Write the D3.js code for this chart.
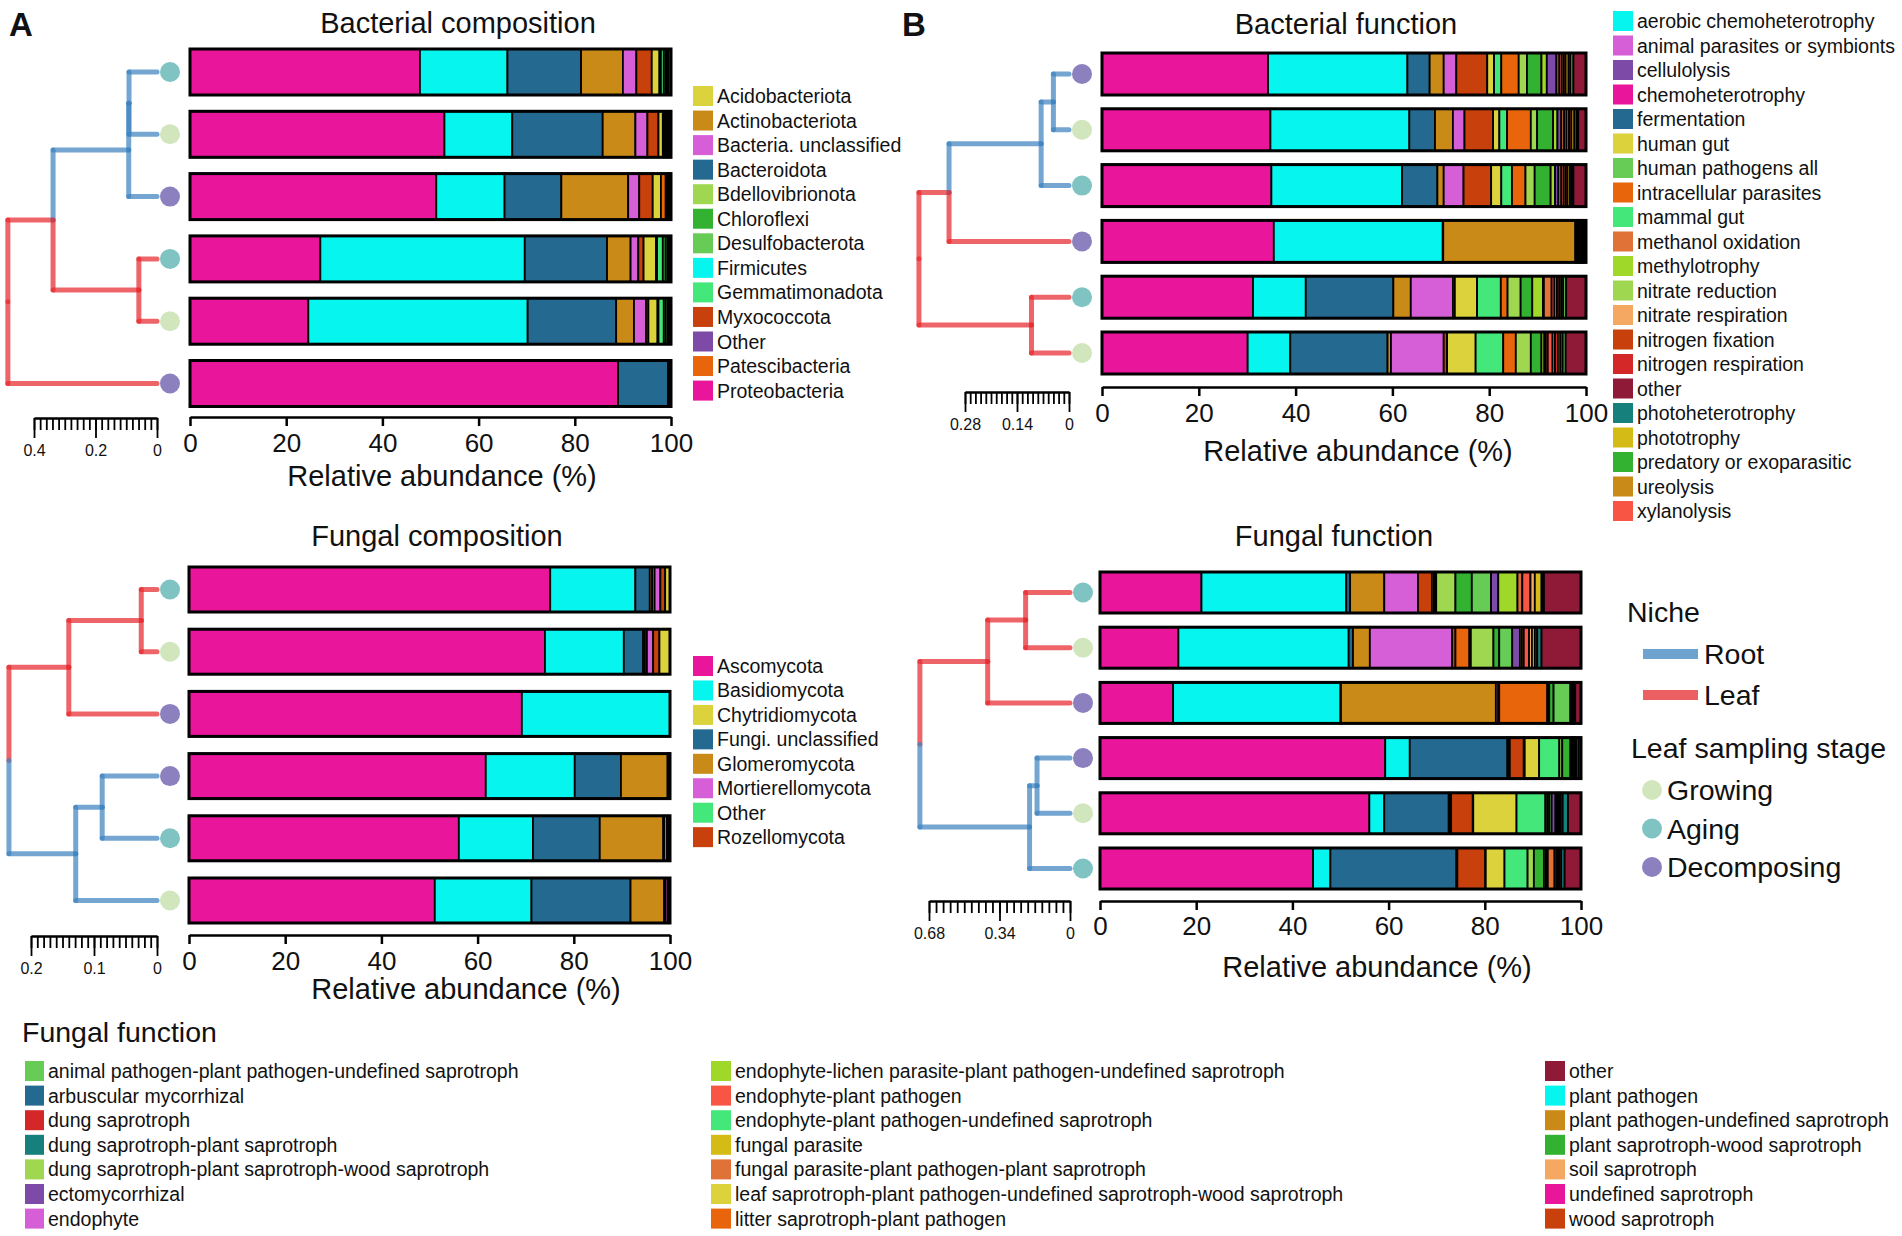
<!DOCTYPE html>
<html>
<head>
<meta charset="utf-8">
<script src="https://cdn.jsdelivr.net/npm/d3@7"></script>
<style>
  body { margin: 0; background: #fff; }
  text { font-family: "Liberation Sans", Arial, sans-serif; fill: #111; }
</style>
</head>
<body>
<script>
// ---------- data ----------
var bacCompStack = ["Proteobacteria", "Firmicutes", "Bacteroidota", "Actinobacteriota", "Bacteria. unclassified",
  "Myxococcota", "Acidobacteriota", "Patescibacteria", "Gemmatimonadota", "Chloroflexi", "Desulfobacterota",
  "Bdellovibrionota", "Other"];
var bacCompValues = [
  [47.8, 18.2, 15.3, 8.7, 2.8, 3.2, 1.6, 0.3, 0.6, 0.4, 0.3, 0.3, 0.5],
  [52.9, 14.1, 18.8, 6.8, 2.5, 2.3, 0.9, 0.3, 0.3, 0.3, 0.3, 0.2, 0.3],
  [51.2, 14.2, 11.8, 13.9, 2.3, 2.8, 1.7, 1.0, 0.3, 0.2, 0.2, 0.2, 0.2],
  [27.1, 42.5, 17.1, 4.9, 1.6, 1.1, 2.6, 0.2, 1.2, 0.6, 0.4, 0.3, 0.4],
  [24.6, 45.6, 18.4, 3.7, 2.5, 0.5, 1.9, 0.2, 1.1, 0.4, 0.4, 0.3, 0.4],
  [89.0, 0, 10.4, 0.1, 0.1, 0.1, 0.1, 0, 0.1, 0, 0, 0, 0.1]
];
var bacCompLegend = ["Acidobacteriota", "Actinobacteriota", "Bacteria. unclassified", "Bacteroidota",
  "Bdellovibrionota", "Chloroflexi", "Desulfobacterota", "Firmicutes", "Gemmatimonadota", "Myxococcota",
  "Other", "Patescibacteria", "Proteobacteria"];
var bacCompStages = ["Aging", "Growing", "Decomposing", "Aging", "Growing", "Decomposing"];
var bacCompNiches = ["Root", "Root", "Root", "Leaf", "Leaf", "Leaf"];
var bacCompTree = {h: 0.485, c: [{h: 0.338, c: [{h: 0.092, c: [{h: 0.091, c: [0, 1]}, 2]}, {h: 0.059, c: [3, 4]}]}, 5]};
var bacCompScale = [0.4, 0.2, 0];

var funCompStack = ["Ascomycota", "Basidiomycota", "Fungi. unclassified", "Glomeromycota", "Other",
  "Mortierellomycota", "Rozellomycota", "Chytridiomycota"];
var funCompValues = [
  [75.1, 17.7, 3.0, 0.5, 0.5, 1.2, 1.0, 1.0],
  [74.0, 16.4, 4.0, 0.4, 0.4, 1.3, 1.3, 2.2],
  [69.2, 30.8, 0, 0, 0, 0, 0, 0],
  [61.7, 18.5, 9.6, 9.7, 0.2, 0.1, 0.1, 0.1],
  [56.1, 15.4, 13.9, 13.2, 0.2, 0.6, 0.3, 0.3],
  [51.1, 20.1, 20.6, 7.0, 0.2, 0.5, 0.3, 0.2]
];
var funCompLegend = ["Ascomycota", "Basidiomycota", "Chytridiomycota", "Fungi. unclassified", "Glomeromycota",
  "Mortierellomycota", "Other", "Rozellomycota"];
var funCompStages = ["Aging", "Growing", "Decomposing", "Decomposing", "Aging", "Growing"];
var funCompNiches = ["Leaf", "Leaf", "Leaf", "Root", "Root", "Root"];
var funCompTree = {h: 0.235, c: [{h: 0.14, c: [{h: 0.025, c: [0, 1]}, 2]}, {h: 0.129, c: [{h: 0.087, c: [3, 4]}, 5]}]};
var funCompScale = [0.2, 0.1, 0];

var bacFunStack = ["chemoheterotrophy", "aerobic chemoheterotrophy", "fermentation", "ureolysis",
  "animal parasites or symbionts", "nitrogen fixation", "human gut", "mammal gut", "intracellular parasites",
  "nitrate reduction", "predatory or exoparasitic", "methylotrophy", "cellulolysis", "methanol oxidation",
  "xylanolysis", "nitrate respiration", "nitrogen respiration", "phototrophy", "photoheterotrophy",
  "human pathogens all", "other"];
var bacFunValues = [
  [34.3, 28.8, 4.6, 2.9, 2.6, 6.4, 1.4, 1.5, 3.6, 1.7, 3.0, 1.1, 2.0, 0.6, 0.5, 0.4, 0.4, 0.6, 0.4, 0.6, 2.6],
  [34.8, 28.7, 5.3, 3.7, 2.4, 5.9, 1.3, 1.6, 4.9, 1.3, 3.3, 0.9, 0.8, 0.6, 0.5, 0.5, 0.5, 0.6, 0.5, 0.3, 1.6],
  [35.0, 27.0, 7.3, 1.3, 4.1, 5.7, 2.1, 2.2, 2.8, 1.9, 3.3, 0.9, 0.7, 0.6, 0.5, 0.4, 0.4, 0.5, 0.4, 0.3, 2.6],
  [35.5, 34.9, 0.1, 27.3, 0.1, 0.1, 0.1, 0.2, 0.1, 0.1, 0.2, 0.1, 0.1, 0.1, 0.1, 0.1, 0.1, 0.1, 0.1, 0.1, 0.4],
  [31.2, 10.9, 18.1, 3.6, 8.7, 0.4, 4.6, 4.9, 1.4, 2.7, 2.4, 2.2, 0.2, 1.6, 0.6, 0.5, 0.5, 0.4, 0.4, 0.6, 4.1],
  [30.1, 8.8, 20.1, 0.7, 10.9, 0.7, 5.9, 5.7, 2.6, 3.1, 2.2, 0.6, 0.3, 0.4, 1.0, 0.5, 0.6, 0.5, 0.5, 0.6, 4.2]
];
var bacFunLegend = ["aerobic chemoheterotrophy", "animal parasites or symbionts", "cellulolysis",
  "chemoheterotrophy", "fermentation", "human gut", "human pathogens all", "intracellular parasites",
  "mammal gut", "methanol oxidation", "methylotrophy", "nitrate reduction", "nitrate respiration",
  "nitrogen fixation", "nitrogen respiration", "other", "photoheterotrophy", "phototrophy",
  "predatory or exoparasitic", "ureolysis", "xylanolysis"];
var bacFunStages = ["Decomposing", "Growing", "Aging", "Decomposing", "Aging", "Growing"];
var bacFunNiches = ["Root", "Root", "Root", "Leaf", "Leaf", "Leaf"];
var bacFunTree = {h: 0.404, c: [{h: 0.323, c: [{h: 0.075, c: [{h: 0.042, c: [0, 1]}, 2]}, 3]}, {h: 0.101, c: [4, 5]}]};
var bacFunScale = [0.28, 0.14, 0];

var funFunStack = ["undefined saprotroph", "plant pathogen", "arbuscular mycorrhizal",
  "plant pathogen-undefined saprotroph", "endophyte", "wood saprotroph", "litter saprotroph-plant pathogen",
  "leaf saprotroph-plant pathogen-undefined saprotroph-wood saprotroph",
  "endophyte-plant pathogen-undefined saprotroph", "dung saprotroph-plant saprotroph-wood saprotroph",
  "plant saprotroph-wood saprotroph", "animal pathogen-plant pathogen-undefined saprotroph", "ectomycorrhizal",
  "endophyte-lichen parasite-plant pathogen-undefined saprotroph",
  "fungal parasite-plant pathogen-plant saprotroph", "endophyte-plant pathogen", "soil saprotroph",
  "fungal parasite", "dung saprotroph", "dung saprotroph-plant saprotroph", "other"];
var funFunValues = [
  [21.1, 30.1, 0.8, 7.1, 7.0, 2.9, 0.4, 0.3, 0.2, 4.0, 3.4, 4.0, 1.5, 4.0, 1.0, 1.7, 0.9, 1.4, 0.3, 0.2, 7.7],
  [16.3, 35.4, 0.9, 3.5, 17.1, 0.7, 2.9, 0.2, 0.1, 4.7, 1.2, 2.7, 1.6, 0.4, 0.4, 1.1, 0.6, 0.6, 0.5, 0.9, 8.2],
  [15.2, 34.8, 0.1, 32.2, 0.5, 0.2, 10.0, 0.1, 0.2, 0.1, 0.9, 3.5, 0.1, 0.1, 0.1, 0.1, 0.1, 0.1, 0.2, 0.2, 1.2],
  [59.3, 5.1, 20.3, 0.3, 0.2, 2.9, 0.2, 3.0, 4.2, 0.6, 1.7, 0.3, 0.1, 0.1, 0.1, 0.1, 0.1, 0.1, 0.3, 0.5, 0.5],
  [56.0, 3.1, 13.4, 0.3, 0.2, 4.5, 0.1, 9.0, 6.0, 0.4, 0.4, 0.5, 0.8, 0.3, 0.2, 0.2, 0.2, 0.2, 0.4, 1.1, 2.7],
  [44.3, 3.6, 26.2, 0.1, 0.1, 5.8, 0.1, 3.9, 4.8, 1.3, 2.1, 0.4, 0.3, 0.1, 1.4, 0.4, 0.3, 0.3, 0.4, 0.7, 3.4]
];
var funFunLegend = ["animal pathogen-plant pathogen-undefined saprotroph", "arbuscular mycorrhizal",
  "dung saprotroph", "dung saprotroph-plant saprotroph", "dung saprotroph-plant saprotroph-wood saprotroph",
  "ectomycorrhizal", "endophyte",
  "endophyte-lichen parasite-plant pathogen-undefined saprotroph", "endophyte-plant pathogen",
  "endophyte-plant pathogen-undefined saprotroph", "fungal parasite",
  "fungal parasite-plant pathogen-plant saprotroph",
  "leaf saprotroph-plant pathogen-undefined saprotroph-wood saprotroph", "litter saprotroph-plant pathogen",
  "other", "plant pathogen", "plant pathogen-undefined saprotroph", "plant saprotroph-wood saprotroph",
  "soil saprotroph", "undefined saprotroph", "wood saprotroph"];
var funFunStages = ["Aging", "Growing", "Decomposing", "Decomposing", "Growing", "Aging"];
var funFunNiches = ["Leaf", "Leaf", "Leaf", "Root", "Root", "Root"];
var funFunTree = {h: 0.724, c: [{h: 0.397, c: [{h: 0.214, c: [0, 1]}, 2]}, {h: 0.195, c: [{h: 0.159, c: [3, 4]}, 5]}]};
var funFunScale = [0.68, 0.34, 0];

var axisTicks = [0, 20, 40, 60, 80, 100];
var nicheNames = ["Root", "Leaf"];
var stageNames = ["Growing", "Aging", "Decomposing"];

// ---------- colours ----------
var bacCompColors = {
  "Acidobacteriota": "#dcd23c", "Actinobacteriota": "#c98a17", "Bacteria. unclassified": "#d65fd8",
  "Bacteroidota": "#24698f", "Bdellovibrionota": "#9fd850", "Chloroflexi": "#33b232",
  "Desulfobacterota": "#66cc55", "Firmicutes": "#06f5ef", "Gemmatimonadota": "#44e87a",
  "Myxococcota": "#c8400b", "Other": "#7d4aa8", "Patescibacteria": "#e8650b", "Proteobacteria": "#e9159a"
};
var funCompColors = {
  "Ascomycota": "#e9159a", "Basidiomycota": "#06f5ef", "Chytridiomycota": "#dcd23c",
  "Fungi. unclassified": "#24698f", "Glomeromycota": "#c98a17", "Mortierellomycota": "#d65fd8",
  "Other": "#44e87a", "Rozellomycota": "#c8400b"
};
var bacFunColors = {
  "aerobic chemoheterotrophy": "#06f5ef", "animal parasites or symbionts": "#d65fd8", "cellulolysis": "#7d4aa8",
  "chemoheterotrophy": "#e9159a", "fermentation": "#24698f", "human gut": "#dcd23c",
  "human pathogens all": "#66cc55", "intracellular parasites": "#e8650b", "mammal gut": "#44e87a",
  "methanol oxidation": "#e07238", "methylotrophy": "#a0d82a", "nitrate reduction": "#9fd850",
  "nitrate respiration": "#f4a862", "nitrogen fixation": "#c8400b", "nitrogen respiration": "#d42828",
  "other": "#8e1a38", "photoheterotrophy": "#15807c", "phototrophy": "#d4bb16",
  "predatory or exoparasitic": "#33b232", "ureolysis": "#c98a17", "xylanolysis": "#f85545"
};
var funFunColors = {
  "animal pathogen-plant pathogen-undefined saprotroph": "#66cc55", "arbuscular mycorrhizal": "#24698f",
  "dung saprotroph": "#d42828", "dung saprotroph-plant saprotroph": "#15807c",
  "dung saprotroph-plant saprotroph-wood saprotroph": "#9fd850", "ectomycorrhizal": "#7d4aa8",
  "endophyte": "#d65fd8", "endophyte-lichen parasite-plant pathogen-undefined saprotroph": "#a0d82a",
  "endophyte-plant pathogen": "#f85545", "endophyte-plant pathogen-undefined saprotroph": "#44e87a",
  "fungal parasite": "#d4bb16", "fungal parasite-plant pathogen-plant saprotroph": "#e07238",
  "leaf saprotroph-plant pathogen-undefined saprotroph-wood saprotroph": "#dcd23c",
  "litter saprotroph-plant pathogen": "#e8650b", "other": "#8e1a38", "plant pathogen": "#06f5ef",
  "plant pathogen-undefined saprotroph": "#c98a17", "plant saprotroph-wood saprotroph": "#33b232",
  "soil saprotroph": "#f4a862", "undefined saprotroph": "#e9159a", "wood saprotroph": "#c8400b"
};
var stageColors = {"Growing": "#d1e6bc", "Aging": "#7fc3c2", "Decomposing": "#8c80bf"};
var nicheColors = {"Root": "#3f84bf", "Leaf": "#e62a2f"};

var svg = d3.select("body").append("svg")
  .attr("width", 1902)
  .attr("height", 1236);
svg.append("rect").attr("width", 1902).attr("height", 1236).attr("fill", "#fff");

// ---------- one panel: tree + stacked bars ----------
function drawPanel(p) {
  var g = svg.append("g");
  var x = d3.scaleLinear().domain([0, 100]).range([p.x0, p.x1]);
  var y = d3.scaleBand().domain(d3.range(p.values.length))
    .range([p.top, p.top + (p.values.length - 1) * p.step + p.barH])
    .paddingInner(1 - p.barH / p.step).paddingOuter(0);

  var rows = p.values.map(function(v) {
    var o = {};
    p.stack.forEach(function(k, i) { o[k] = v[i]; });
    return o;
  });
  var series = d3.stack().keys(p.stack)(rows);

  g.selectAll("g.layer")
    .data(series)
    .enter().append("g")
    .attr("fill", function(s) { return p.colors[s.key]; })
    .selectAll("rect")
    .data(function(s) { return s; })
    .enter().append("rect")
    .attr("x", function(d) { return x(d[0]); })
    .attr("width", function(d) { return x(d[1]) - x(d[0]); })
    .attr("y", function(d, i) { return y(i); })
    .attr("height", y.bandwidth())
    .attr("stroke", "#000")
    .attr("stroke-width", 1.8);

  // thick outline round each bar
  g.selectAll("rect.outline")
    .data(p.values)
    .enter().append("rect")
    .attr("class", "outline")
    .attr("x", x(0)).attr("width", x(100) - x(0))
    .attr("y", function(d, i) { return y(i); })
    .attr("height", y.bandwidth())
    .attr("fill", "none").attr("stroke", "#000").attr("stroke-width", 3);

  // x axis
  var ax = g.append("g")
    .attr("transform", "translate(0," + p.axisY + ")")
    .call(d3.axisBottom(x).tickValues(axisTicks).tickSize(9).tickSizeOuter(0));
  ax.select(".domain").attr("stroke-width", 2.5).attr("stroke", "#000");
  ax.selectAll(".tick line").attr("stroke-width", 2.5).attr("stroke", "#000");
  ax.selectAll(".tick text")
    .attr("y", p.labelOff).attr("dy", "0.36em")
    .style("font-size", "26px").style("font-family", "'Liberation Sans', Arial, sans-serif").attr("fill", "#111");

  g.append("text")
    .attr("x", p.axisTitleX).attr("y", p.axisTitleY).attr("dy", "0.36em")
    .attr("text-anchor", "middle").style("font-size", "29px")
    .text("Relative abundance (%)");

  g.append("text")
    .attr("x", p.titleX).attr("y", p.titleY).attr("dy", "0.36em")
    .attr("text-anchor", "middle").style("font-size", "29px")
    .text(p.title);

  // dendrogram
  var t = d3.scaleLinear().domain([0, p.scale[0]]).range([p.treeX0, p.treeXL]);
  function layout(node) {
    if (typeof node === "number") {
      return {x: t(0), y: y(node) + y.bandwidth() / 2, niche: p.niches[node], row: node};
    }
    var kids = node.c.map(layout);
    return {
      x: t(node.h),
      y: (kids[0].y + kids[kids.length - 1].y) / 2,
      kids: kids,
      niche: kids.every(function(k) { return k.niche === "Root"; }) ? "Root" : "Leaf"
    };
  }
  var segs = [];
  function collect(n) {
    if (!n.kids) return;
    n.kids.forEach(function(k) {
      segs.push({x1: n.x, y1: n.y, x2: n.x, y2: k.y, niche: k.niche});
      segs.push({x1: n.x, y1: k.y, x2: k.x, y2: k.y, niche: k.niche});
      collect(k);
    });
  }
  collect(layout(p.tree));

  g.selectAll("line.branch")
    .data(segs)
    .enter().append("line")
    .attr("class", "branch")
    .attr("x1", function(d) { return d.x1; }).attr("y1", function(d) { return d.y1; })
    .attr("x2", function(d) { return d.x2; }).attr("y2", function(d) { return d.y2; })
    .attr("stroke", function(d) { return nicheColors[d.niche]; })
    .attr("stroke-opacity", 0.72)
    .attr("stroke-width", 5)
    .attr("stroke-linecap", "round");

  g.selectAll("circle.stage")
    .data(p.stages)
    .enter().append("circle")
    .attr("class", "stage")
    .attr("cx", p.treeX0 + 13)
    .attr("cy", function(d, i) { return y(i) + y.bandwidth() / 2; })
    .attr("r", 10)
    .attr("fill", function(d) { return stageColors[d]; });

  // scale bar under the tree
  var minor = d3.range(0, p.scale[0] + 1e-9, p.scale[0] / 20);
  var sb = g.append("g").attr("transform", "translate(0," + p.sbY + ")");
  sb.append("g")
    .call(d3.axisBottom(t).tickValues(minor).tickSize(12).tickSizeOuter(0).tickFormat(""))
    .call(function(s) { s.selectAll("line,path").attr("stroke", "#000").attr("stroke-width", 1.8); });
  var sbMajor = sb.append("g")
    .call(d3.axisBottom(t).tickValues(p.scale).tickSize(20).tickSizeOuter(0)
      .tickFormat(function(d) { return String(d); }));
  sbMajor.selectAll("line,path").attr("stroke", "#000").attr("stroke-width", 1.8);
  sbMajor.selectAll("text")
    .attr("y", 32).attr("dy", "0.36em")
    .style("font-size", "16px").style("font-family", "'Liberation Sans', Arial, sans-serif").attr("fill", "#111");
}

function drawLegend(items, colors, x, y0, gap, sw) {
  var lg = svg.append("g");
  var it = lg.selectAll("g")
    .data(items)
    .enter().append("g")
    .attr("transform", function(d, i) { return "translate(" + x + "," + (y0 + i * gap) + ")"; });
  it.append("rect")
    .attr("x", 0).attr("y", -10).attr("width", sw).attr("height", 20)
    .attr("fill", function(d) { return colors[d]; });
  it.append("text")
    .attr("x", sw + 4).attr("dy", "0.36em")
    .style("font-size", "19.5px")
    .text(function(d) { return d; });
}

// ---------- panels ----------
drawPanel({
  title: "Bacterial composition", titleX: 458, titleY: 23,
  stack: bacCompStack, values: bacCompValues, colors: bacCompColors,
  x0: 190, x1: 671, top: 49, step: 62.3, barH: 46,
  axisY: 417, labelOff: 26, axisTitleX: 442, axisTitleY: 476,
  tree: bacCompTree, stages: bacCompStages, niches: bacCompNiches,
  scale: bacCompScale, treeX0: 157, treeXL: 34, sbY: 418
});
drawPanel({
  title: "Fungal composition", titleX: 437, titleY: 536,
  stack: funCompStack, values: funCompValues, colors: funCompColors,
  x0: 189, x1: 670, top: 567, step: 62.2, barH: 45,
  axisY: 935, labelOff: 26, axisTitleX: 466, axisTitleY: 989,
  tree: funCompTree, stages: funCompStages, niches: funCompNiches,
  scale: funCompScale, treeX0: 157, treeXL: 31, sbY: 936
});
drawPanel({
  title: "Bacterial function", titleX: 1346, titleY: 24,
  stack: bacFunStack, values: bacFunValues, colors: bacFunColors,
  x0: 1102, x1: 1586, top: 53, step: 55.8, barH: 42,
  axisY: 387, labelOff: 26, axisTitleX: 1358, axisTitleY: 451,
  tree: bacFunTree, stages: bacFunStages, niches: bacFunNiches,
  scale: bacFunScale, treeX0: 1069, treeXL: 965, sbY: 392
});
drawPanel({
  title: "Fungal function", titleX: 1334, titleY: 536,
  stack: funFunStack, values: funFunValues, colors: funFunColors,
  x0: 1100, x1: 1581, top: 572, step: 55.2, barH: 41,
  axisY: 901, labelOff: 25, axisTitleX: 1377, axisTitleY: 967,
  tree: funFunTree, stages: funFunStages, niches: funFunNiches,
  scale: funFunScale, treeX0: 1070, treeXL: 929, sbY: 901
});

// panel letters
svg.append("text").attr("x", 9).attr("y", 36).style("font-size", "33px").style("font-weight", "bold").text("A");
svg.append("text").attr("x", 902).attr("y", 36).style("font-size", "33px").style("font-weight", "bold").text("B");

// ---------- legends ----------
drawLegend(bacCompLegend, bacCompColors, 693, 96, 24.55, 20);
drawLegend(funCompLegend, funCompColors, 693, 666, 24.45, 20);
drawLegend(bacFunLegend, bacFunColors, 1613, 21, 24.5, 20);

svg.append("text").attr("x", 22).attr("y", 1032).attr("dy", "0.36em")
  .style("font-size", "28.5px").text("Fungal function");
drawLegend(funFunLegend.slice(0, 7), funFunColors, 25, 1071, 24.6, 19);
drawLegend(funFunLegend.slice(7, 14), funFunColors, 711, 1071, 24.6, 20);
drawLegend(funFunLegend.slice(14), funFunColors, 1545, 1071, 24.6, 20);

// niche + stage legend
var nl = svg.append("g");
nl.append("text").attr("x", 1627).attr("y", 612).attr("dy", "0.36em").style("font-size", "28.5px").text("Niche");
nl.selectAll("line.niche")
  .data(nicheNames)
  .enter().append("line")
  .attr("x1", 1643).attr("x2", 1698)
  .attr("y1", function(d, i) { return 654 + i * 41; })
  .attr("y2", function(d, i) { return 654 + i * 41; })
  .attr("stroke", function(d) { return nicheColors[d]; })
  .attr("stroke-opacity", 0.75)
  .attr("stroke-width", 10);
nl.selectAll("text.niche")
  .data(nicheNames)
  .enter().append("text")
  .attr("x", 1704).attr("y", function(d, i) { return 654 + i * 41; }).attr("dy", "0.36em")
  .style("font-size", "28.5px")
  .text(function(d) { return d; });

nl.append("text").attr("x", 1631).attr("y", 748).attr("dy", "0.36em").style("font-size", "28.5px")
  .text("Leaf sampling stage");
nl.selectAll("circle.st")
  .data(stageNames)
  .enter().append("circle")
  .attr("cx", 1652).attr("cy", function(d, i) { return 790 + i * 38.5; })
  .attr("r", 10)
  .attr("fill", function(d) { return stageColors[d]; });
nl.selectAll("text.st")
  .data(stageNames)
  .enter().append("text")
  .attr("x", 1667).attr("y", function(d, i) { return 790 + i * 38.5; }).attr("dy", "0.36em")
  .style("font-size", "28.5px")
  .text(function(d) { return d; });
</script>
</body>
</html>
